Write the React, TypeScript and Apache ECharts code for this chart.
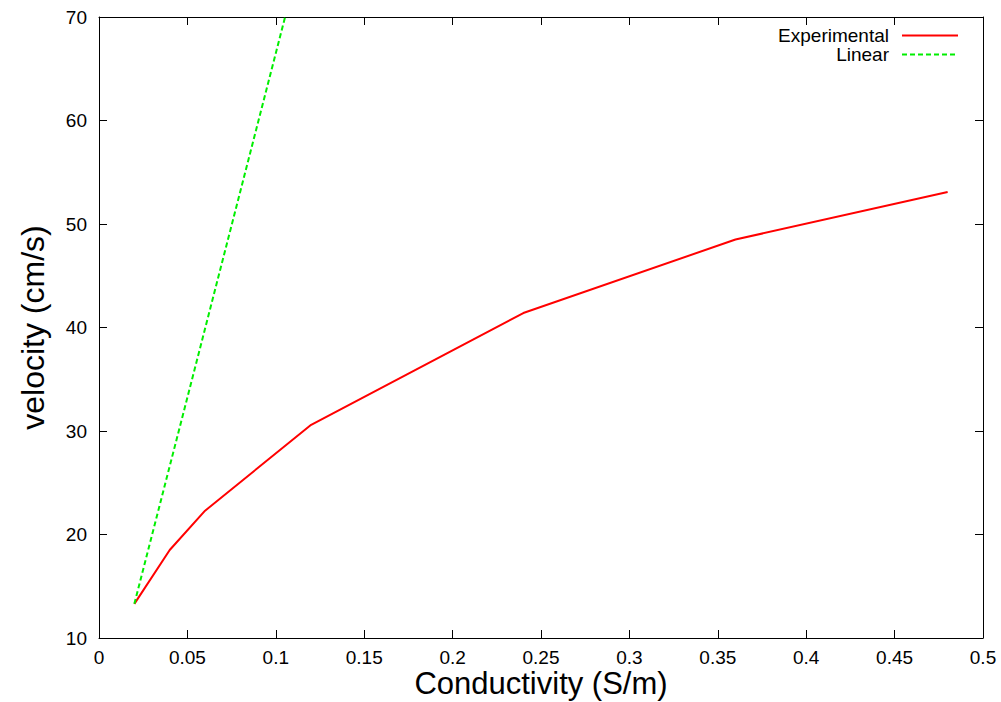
import React, { useEffect, useRef } from "react";
import * as echarts from "echarts";

const conductivity = [0.02, 0.04, 0.06, 0.12, 0.24, 0.36, 0.48];
const experimental = [13.3, 18.5, 22.3, 30.6, 41.4, 48.5, 53.1];
const linearX = [0.02, 0.04, 0.06, 0.12];
const linearY = [13.3, 26.6, 39.9, 79.8];

const FONT = "Liberation Sans, Arial, Helvetica, sans-serif";

export default function App() {
  const ref = useRef<HTMLDivElement>(null);
  useEffect(() => {
    if (!ref.current) return;
    const chart = echarts.init(ref.current, undefined, { renderer: "svg" });
    const axisCommon = {
      type: "value" as const,
      splitLine: { show: false },
      axisLine: { show: true, onZero: false, lineStyle: { color: "#000", width: 1 } },
      axisTick: { show: true, inside: true, length: 8, lineStyle: { color: "#000", width: 1 } },
    };
    chart.setOption({
      animation: false,
      backgroundColor: "#fff",
      grid: { left: 99, right: 18, top: 17, bottom: 64, containLabel: false, outerBoundsMode: "none" },
      legend: {
        orient: "vertical",
        right: 42,
        top: 26,
        padding: 0,
        align: "right",
        itemWidth: 56,
        itemHeight: 10,
        itemGap: 0,
        itemStyle: { opacity: 0 },
        textStyle: { fontFamily: FONT, fontSize: 19, lineHeight: 18, color: "#000", padding: [0, 8, 0, 0] },
        data: ["Experimental", "Linear"],
      },
      xAxis: [
        {
          ...axisCommon,
          min: 0,
          max: 0.5,
          interval: 0.05,
          position: "bottom",
          axisLabel: { color: "#000", fontFamily: FONT, fontSize: 19, lineHeight: 19, margin: 10 },
          name: "Conductivity (S/m)",
          nameLocation: "middle",
          nameGap: 30,
          nameMoveOverlap: false,
          nameTextStyle: { color: "#000", fontFamily: FONT, fontSize: 31, lineHeight: 31 },
        },
        {
          ...axisCommon,
          min: 0,
          max: 0.5,
          interval: 0.05,
          position: "top",
          axisLabel: { show: false },
        },
      ],
      yAxis: [
        {
          ...axisCommon,
          min: 10,
          max: 70,
          interval: 10,
          position: "left",
          axisLabel: { color: "#000", fontFamily: FONT, fontSize: 19, margin: 12 },
          name: "velocity (cm/s)",
          nameLocation: "middle",
          nameGap: 50,
          nameMoveOverlap: false,
          nameTextStyle: { color: "#000", fontFamily: FONT, fontSize: 32 },
        },
        {
          ...axisCommon,
          min: 10,
          max: 70,
          interval: 10,
          position: "right",
          axisLabel: { show: false },
        },
      ],
      series: [
        {
          name: "Experimental",
          type: "line",
          symbol: "none",
          data: conductivity.map((x, i) => [x, experimental[i]]),
          lineStyle: { color: "#ff0000", width: 2 },
          itemStyle: { color: "#ff0000" },
          clip: true,
        },
        {
          name: "Linear",
          type: "line",
          symbol: "none",
          data: linearX.map((x, i) => [x, linearY[i]]),
          lineStyle: { color: "#00ee00", width: 2, type: [5, 3] },
          itemStyle: { color: "#00ee00" },
          clip: true,
        },
      ],
    });
    return () => chart.dispose();
  }, []);
  return (
    <div
      ref={ref}
      style={{ position: "fixed", left: 0, top: 0, width: 1001, height: 702, background: "#fff" }}
    />
  );
}
